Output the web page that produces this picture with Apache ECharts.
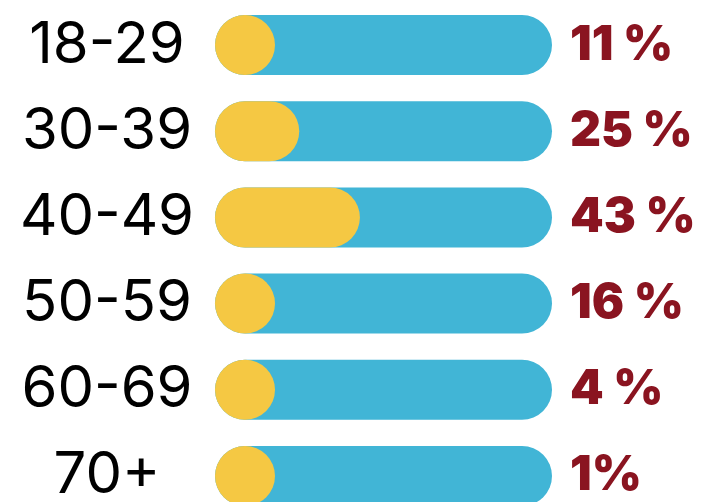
<!DOCTYPE html>
<html>
<head>
<meta charset="utf-8">
<script src="https://cdn.jsdelivr.net/npm/echarts@6/dist/echarts.min.js"></script>
<style>
  html, body { margin: 0; padding: 0; background: #fff; }
  #chart { width: 701px; height: 502px; }
</style>
</head>
<body>
<div id="chart"></div>
<script>
// age groups, share of respondents and the printed labels
const ageGroups = ['18-29', '30-39', '40-49', '50-59', '60-69', '70+']
const shares = [11, 25, 43, 16, 4, 1]
const shareLabels = ['11 %', '25 %', '43 %', '16 %', '4 %', '1%']
const fullScale = 100

const chart = echarts.init(document.getElementById('chart'), null, { renderer: 'canvas' })

chart.setOption({
  animation: false,
  grid: { left: 215, width: 337, top: 2, height: 517, outerBoundsMode: 'none' },
  xAxis: {
    type: 'value',
    min: 0,
    max: fullScale,
    show: false
  },
  yAxis: {
    type: 'category',
    inverse: true,
    data: ageGroups,
    axisLine: { show: false },
    axisTick: { show: false },
    axisLabel: {
      align: 'center',
      margin: 108,
      color: '#000',
      fontFamily: 'Inter',
      fontSize: 58,
      fontWeight: 400
    }
  },
  series: [
    {
      type: 'bar',
      data: ageGroups.map(() => fullScale),
      barWidth: 60,
      barGap: '-100%',
      silent: true,
      itemStyle: { color: '#41B5D6', borderRadius: 30 },
      label: {
        show: true,
        position: 'right',
        distance: 18,
        formatter: p => shareLabels[p.dataIndex],
        color: '#8A1420',
        fontFamily: 'Inter',
        fontSize: 48,
        fontWeight: 900
      },
      z: 1
    },
    {
      type: 'bar',
      data: shares,
      barWidth: 60,
      barMinHeight: 60,
      silent: true,
      itemStyle: { color: '#F5C843', borderRadius: 30 },
      z: 2
    }
  ]
})
</script>
</body>
</html>
